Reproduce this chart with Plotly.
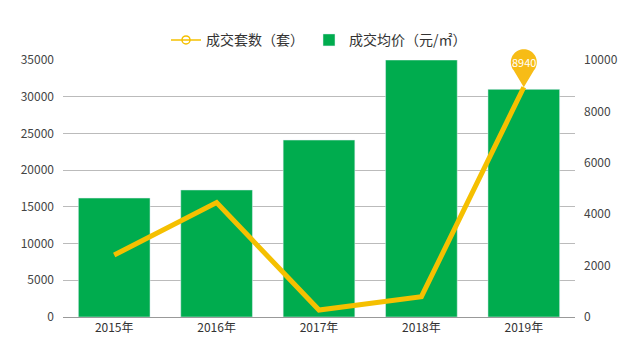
import plotly.graph_objects as go
import math

years = ["2015年", "2016年", "2017年", "2018年", "2019年"]
avg_price = [16200, 17300, 24100, 35000, 31000]   # 成交均价（元/㎡）
deals = [2410, 4450, 270, 790, 8940]              # 成交套数（套）
y1_max = 35000
y2_max = 10000

line_color = "#F5C000"
bar_color = "#00AC4E"
font_family = "Noto Sans CJK SC, Microsoft YaHei, sans-serif"

fig = go.Figure()

# legend-only item for line
fig.add_trace(go.Scatter(
    x=[years[0]], y=[None], name="成交套数（套）", mode="lines+markers",
    line=dict(color=line_color, width=1.5),
    marker=dict(symbol="circle-open", size=8, color=line_color, line=dict(width=1.5)),
    yaxis="y2", showlegend=True, hoverinfo="skip"))

fig.add_trace(go.Bar(
    x=years, y=avg_price, name="成交均价（元/㎡）", marker_color=bar_color,
    yaxis="y"))

fig.add_trace(go.Scatter(
    x=years, y=deals, name="成交套数（套）", mode="lines",
    line=dict(color=line_color, width=5), yaxis="y2", showlegend=False))

# pin marker on last point (anchored in paper coords derived from data/axis range)
idx = len(years) - 1
ax = (idx + 0.5) / len(years)
ay = deals[idx] / y2_max
R = 13
cy = 25
ang0 = math.asin(R / cy)
start = -math.pi / 2 + ang0 + 0.35
end = 3 * math.pi / 2 - ang0 - 0.35
n = 40
path = "M 0,0"
for i in range(n + 1):
    a = start + (end - start) * i / n
    path += f" L {R*math.cos(a):.2f},{cy + R*math.sin(a):.2f}"
path += " Z"
fig.add_shape(type="path", path=path, xref="paper", yref="paper",
              xsizemode="pixel", ysizemode="pixel", xanchor=ax, yanchor=ay,
              fillcolor="#F7BC16", line=dict(width=0), layer="above")
fig.add_annotation(x=ax, y=ay, xref="paper", yref="paper", text=str(deals[idx]),
                   showarrow=False, yshift=cy, xanchor="center", yanchor="middle",
                   font=dict(color="white", size=11, family=font_family))

fig.update_layout(
    width=640, height=359,
    margin=dict(l=55, r=73, t=52, b=50, autoexpand=False),
    paper_bgcolor="white", plot_bgcolor="white",
    font=dict(family=font_family, size=12, color="#333"),
    bargap=0.3,
    legend=dict(orientation="h", x=0.5, xanchor="center", y=0.91, yanchor="middle",
                yref="container", font=dict(size=14, color="#333"),
                itemwidth=30, traceorder="normal"),
    xaxis=dict(type="category", categoryorder="array", categoryarray=years,
               showline=True, linecolor="#999", linewidth=1, ticks="",
               tickfont=dict(size=12, color="#333"), showgrid=False),
    yaxis=dict(range=[0, y1_max], dtick=5000, tickformat="d", showgrid=True,
               gridcolor="#bbb", gridwidth=1, zeroline=False, ticks="",
               ticklabelstandoff=8, tickfont=dict(size=12, color="#444"),
               showline=False),
    yaxis2=dict(range=[0, y2_max], dtick=2000, tickformat="d", overlaying="y",
                side="right", showgrid=False, zeroline=False, ticks="",
                ticklabelstandoff=8, tickfont=dict(size=12, color="#444"),
                showline=False),
    hovermode="x",
)

fig.write_html("out.html")
